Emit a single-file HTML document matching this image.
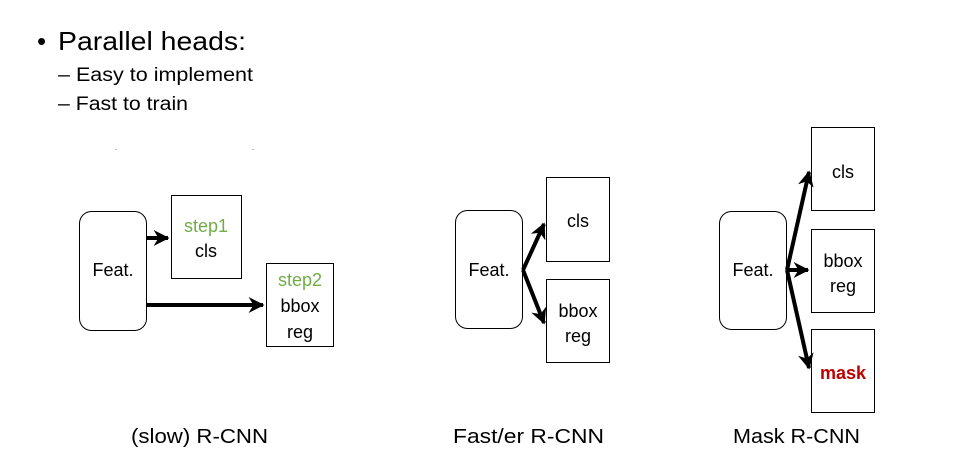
<!DOCTYPE html>
<html><head><meta charset="utf-8"><style>
html,body{margin:0;padding:0;background:#fff;width:974px;height:452px;overflow:hidden}
svg text{font-family:"Liberation Sans",sans-serif}
</style></head><body>
<svg width="974" height="452" viewBox="0 0 974 452" xmlns="http://www.w3.org/2000/svg">
<defs>
<marker id="ah" viewBox="0 0 10 10" refX="9" refY="5" markerWidth="4" markerHeight="4" orient="auto" markerUnits="strokeWidth">
<path d="M0,0 L10,5 L0,10 L3,5 z" fill="#000"/>
</marker>
</defs>
<text x="37" y="50" font-size="26">•</text>
<text x="58" y="50" font-size="26" textLength="188" lengthAdjust="spacingAndGlyphs">Parallel heads:</text>
<text x="58" y="81" font-size="19" textLength="195" lengthAdjust="spacingAndGlyphs">– Easy to implement</text>
<text x="58" y="110" font-size="19" textLength="130" lengthAdjust="spacingAndGlyphs">– Fast to train</text>
<rect x="115" y="149" width="2" height="1" fill="#bbb"/>
<rect x="252" y="149" width="2" height="1" fill="#bbb"/>

<g fill="#fff" stroke="#000" stroke-width="1">
<rect x="79.5" y="211.5" width="67" height="119" rx="12"/>
<rect x="171.5" y="195.5" width="70" height="83"/>
<rect x="266.5" y="263.5" width="67" height="83"/>
<rect x="455.5" y="210.5" width="67" height="118" rx="12"/>
<rect x="546.5" y="177.5" width="63" height="84"/>
<rect x="546.5" y="279.5" width="63" height="83"/>
<rect x="719.5" y="211.5" width="67" height="118" rx="12"/>
<rect x="811.5" y="127.5" width="63" height="83"/>
<rect x="811.5" y="229.5" width="63" height="83"/>
<rect x="811.5" y="329.5" width="63" height="83"/>
</g>

<g stroke="#000" stroke-width="4" fill="none" marker-end="url(#ah)">
<line x1="147" y1="238" x2="168" y2="238"/>
<line x1="147" y1="305" x2="263" y2="305"/>
<line x1="523" y1="270" x2="544" y2="224"/>
<line x1="523" y1="270" x2="544" y2="323"/>
<line x1="787" y1="270" x2="809" y2="172"/>
<line x1="787" y1="270" x2="808" y2="270"/>
<line x1="787" y1="270" x2="809" y2="368"/>
</g>

<g font-size="18" text-anchor="middle">
<text x="113" y="276">Feat.</text>
<text x="206" y="232" fill="#70ad47">step1</text>
<text x="206" y="257">cls</text>
<text x="300" y="286" fill="#70ad47">step2</text>
<text x="300" y="312">bbox</text>
<text x="300" y="338">reg</text>
<text x="489" y="276">Feat.</text>
<text x="578" y="227">cls</text>
<text x="578" y="317">bbox</text>
<text x="578" y="342">reg</text>
<text x="753" y="276">Feat.</text>
<text x="843" y="178">cls</text>
<text x="843" y="267">bbox</text>
<text x="843" y="292">reg</text>
<text x="843" y="379" fill="#c00000" font-weight="bold">mask</text>
</g>

<g font-size="20">
<text x="131" y="443" textLength="137" lengthAdjust="spacingAndGlyphs">(slow) R-CNN</text>
<text x="453" y="443" textLength="151" lengthAdjust="spacingAndGlyphs">Fast/er R-CNN</text>
<text x="733" y="443" textLength="127" lengthAdjust="spacingAndGlyphs">Mask R-CNN</text>
</g>
</svg>
</body></html>
